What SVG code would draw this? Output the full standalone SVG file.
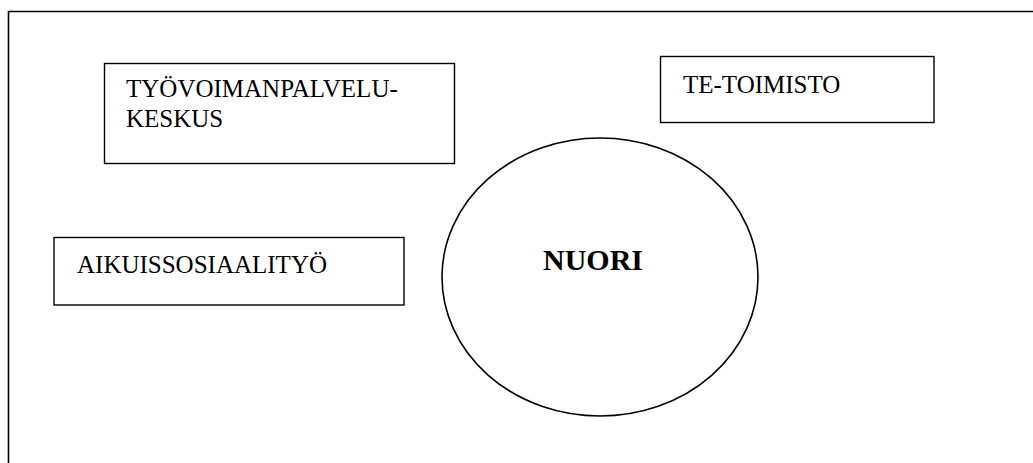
<svg xmlns="http://www.w3.org/2000/svg" width="1033" height="463" viewBox="0 0 1033 463">
<style>
.frame{fill:none;stroke:#000;stroke-width:1.6}
.box{fill:#fff;stroke:#000;stroke-width:1.4}
.ell{fill:#fff;stroke:#000;stroke-width:1.6}
.lbl{font-family:"Liberation Serif","Times New Roman",serif;font-size:25px;fill:#000}
.bold{font-weight:bold;font-size:30px}
</style>
<rect width="1033" height="463" fill="#fff"/>
<path class="frame" d="M8.5,463 V11.5 H1033"/>
<g id="connectors"></g>
<g id="tyovoimanpalvelukeskus">
<rect class="box" x="104.5" y="63.5" width="350" height="100"/>
<text class="lbl" x="126" y="97">TYÖVOIMANPALVELU-</text>
<text class="lbl" x="126" y="127">KESKUS</text>
</g>
<g id="te-toimisto">
<rect class="box" x="660.5" y="56.5" width="273.5" height="66"/>
<text class="lbl" x="683" y="92.5">TE-TOIMISTO</text>
</g>
<g id="aikuissosiaalityo">
<rect class="box" x="54" y="237.5" width="350" height="67.5"/>
<text class="lbl" x="77" y="273">AIKUISSOSIAALITYÖ</text>
</g>
<g id="nuori">
<ellipse class="ell" cx="600" cy="277" rx="158" ry="139"/>
<text class="lbl bold" x="543" y="270">NUORI</text>
</g>
</svg>
